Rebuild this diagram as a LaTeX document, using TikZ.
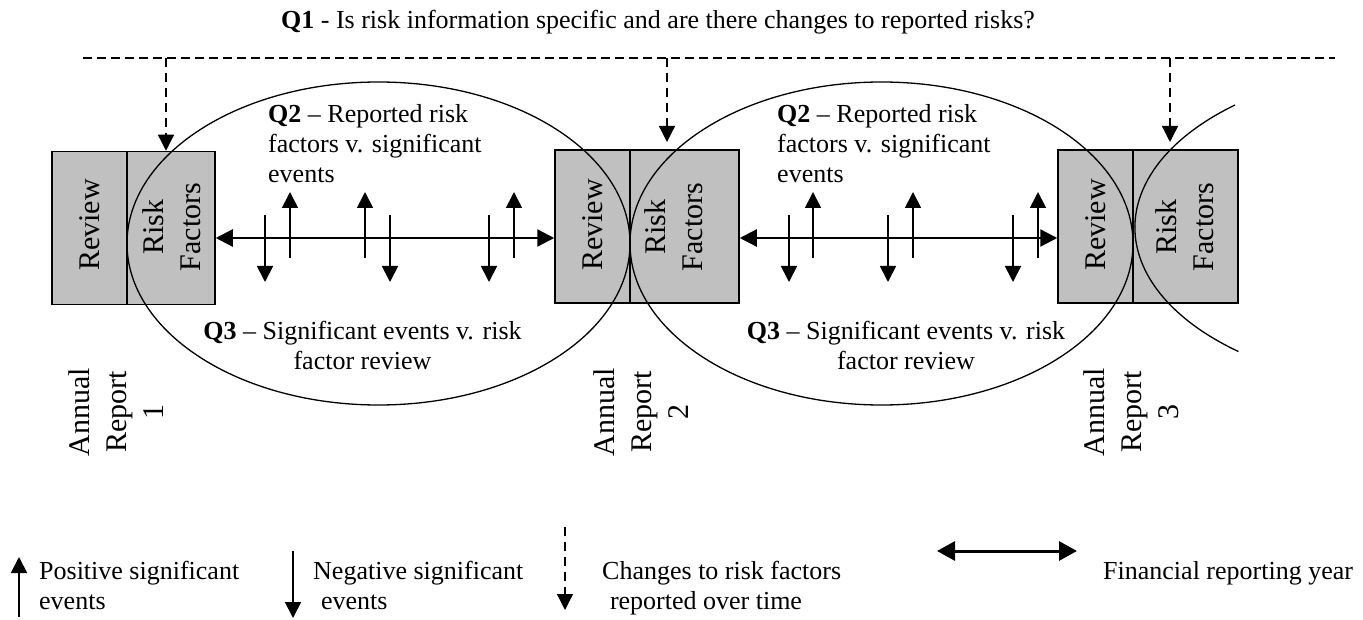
\documentclass[tikz,border=0pt]{standalone}
\usepackage{fontspec}
\setmainfont{Liberation Serif}
\usetikzlibrary{arrows.meta,calc}
\definecolor{boxgray}{RGB}{192,192,192}
\begin{document}
\begin{tikzpicture}[x=1pt,y=-1pt,
  boxpart/.style={draw=black, line width=1.5pt, fill=boxgray, inner sep=0pt, minimum height=153pt},
  vtext/.style={rotate=90, font=\fontsize{30}{37}\selectfont, align=center, inner sep=0pt},
  qtext/.style={font=\fontsize{26}{30}\selectfont, inner sep=0pt},
  ell/.style={line width=1.3pt},
  dashline/.style={dash pattern=on 9pt off 5pt, line width=1.3pt},
  dasharrow/.style={dash pattern=on 9pt off 6pt, line width=1.3pt, -{Triangle[width=16pt,length=16pt]}},
  evarrow/.style={line width=1.8pt, -{Triangle[width=16pt,length=16pt]}},
  yeararrow/.style={line width=2.3pt, {Triangle[width=17pt,length=17pt]}-{Triangle[width=17pt,length=17pt]}},
  legyear/.style={line width=3pt, {Triangle[width=19pt,length=18pt]}-{Triangle[width=19pt,length=18pt]}}
]
\useasboundingbox (0,0) rectangle (1363,620);

% boxes
\node[boxpart, minimum width=75pt]  (rv1) at (89.5,228) {};
\node[boxpart, minimum width=88pt]  (rf1) at (171,228) {};
\node[boxpart, minimum width=75pt]  (rv2) at (592.5,226.5) {};
\node[boxpart, minimum width=109pt] (rf2) at (684.5,226.5) {};
\node[boxpart, minimum width=75pt]  (rv3) at (1095.5,226.5) {};
\node[boxpart, minimum width=105pt] (rf3) at (1185.5,226.5) {};

% ellipses
\draw[ell] (378.5,243.5) ellipse [x radius=251.5, y radius=161.5];
\draw[ell] (881.5,243.5) ellipse [x radius=251.5, y radius=161.5];
\draw[ell] (1235,105) arc[start angle=229.1, end angle=130, x radius=290, y radius=162];

% box texts
\node[vtext] (tv1) at (89.5,225) {Review};
\node[vtext] (tf1) at (172,227) {Risk\\Factors};
\node[vtext] (tv2) at (593,225) {Review};
\node[vtext] (tf2) at (674,227) {Risk\\Factors};
\node[vtext] (tv3) at (1096,225) {Review};
\node[vtext] (tf3) at (1185,227) {Risk\\Factors};

% annual report labels
\node[vtext] (ar1) at (116,412) {Annual\\Report\\1};
\node[vtext] (ar2) at (641,412) {Annual\\Report\\2};
\node[vtext] (ar3) at (1131,412) {Annual\\Report\\3};

% Q1 and dashed line
\node[qtext, anchor=base] (q1) at (658,29) {\textbf{Q1} - Is risk information specific and are there changes to reported risks?};
\coordinate (dl) at (83,58);
\coordinate (dr) at (1335,58);
\draw[dashline] (dl) -- (dr);
\coordinate (d1) at (166,58);
\coordinate (d2) at (667,58);
\coordinate (d3) at (1170,58);
\coordinate (e2) at (667,142);
\coordinate (e3) at (1170,142);
\draw[dasharrow] (d1) -- (d1 |- rf1.north);
\draw[dasharrow] (d2) -- (e2);
\draw[dasharrow] (d3) -- (e3);

% financial year arrows
\coordinate (my) at (0,238);
\draw[yeararrow] (rf1.east |- my) -- (rv2.west |- my);
\draw[yeararrow] (rf2.east |- my) -- (rv3.west |- my);

% significant events
\foreach \x in {265,390,489,789,888,1013} \draw[evarrow] (\x,215) -- (\x,282);
\foreach \x in {290,365,514,813,913,1038} \draw[evarrow] (\x,258) -- (\x,192);

% Q2 / Q3 texts
\node[qtext, anchor=north west, align=left] (q2a) at (268,104) {\textbf{Q2} – Reported risk\\factors v. significant\\events};
\node[qtext, anchor=north west, align=left] (q2b) at (777,104) {\textbf{Q2} – Reported risk\\factors v. significant\\events};
\node[qtext, anchor=north, align=center] (q3a) at (362.5,321) {\textbf{Q3} – Significant events v. risk\\factor review};
\node[qtext, anchor=north, align=center] (q3b) at (906,321) {\textbf{Q3} – Significant events v. risk\\factor review};

% legend
\coordinate (lu1) at (19,617);  \coordinate (lu2) at (19,557);
\coordinate (ld1) at (293,551); \coordinate (ld2) at (293,618);
\coordinate (lc1) at (565,527); \coordinate (lc2) at (565,610);
\coordinate (ly1) at (937,551); \coordinate (ly2) at (1077,551);
\draw[evarrow] (lu1) -- (lu2);
\draw[evarrow] (ld1) -- (ld2);
\draw[dasharrow] (lc1) -- (lc2);
\draw[legyear] (ly1) -- (ly2);
\node[qtext, anchor=north west, align=left] (lg1) at (39,561) {Positive significant\\events};
\node[qtext, anchor=north west, align=left] (lg2) at (313,561) {Negative significant\\\hspace*{0.3em}events};
\node[qtext, anchor=north west, align=left] (lg3) at (602,561) {Changes to risk factors\\\hspace*{0.3em}reported over time};
\node[qtext, anchor=north west, align=left] (lg4) at (1103,561) {Financial reporting year};
\end{tikzpicture}
\end{document}
